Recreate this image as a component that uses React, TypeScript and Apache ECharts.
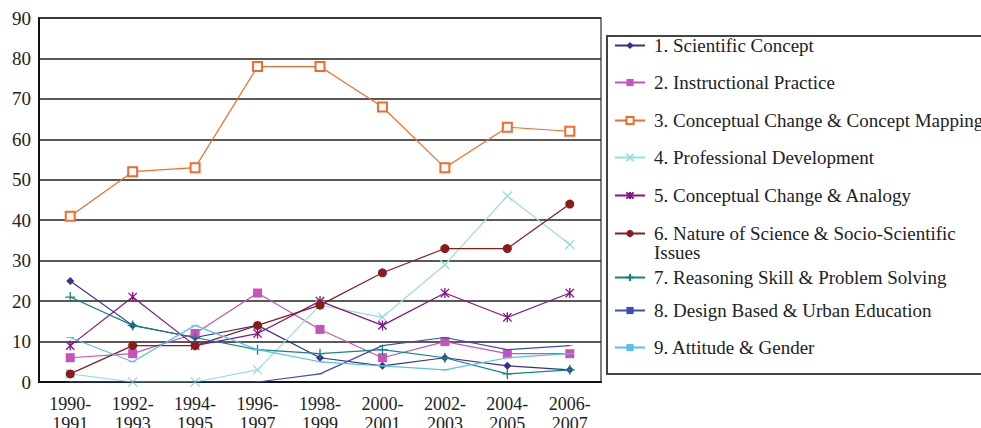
import React, { useEffect, useRef } from "react";
import * as echarts from "echarts";

const categories = [
  "1990-\n1991", "1992-\n1993", "1994-\n1995", "1996-\n1997", "1998-\n1999",
  "2000-\n2001", "2002-\n2003", "2004-\n2005", "2006-\n2007",
];
const yTicks = [0, 10, 20, 30, 40, 50, 60, 70, 80, 90];

const seriesNames = [
  "1. Scientific Concept",
  "2. Instructional Practice",
  "3. Conceptual Change & Concept Mapping",
  "4. Professional Development",
  "5. Conceptual Change & Analogy",
  "6. Nature of Science & Socio-Scientific Issues",
  "7. Reasoning Skill & Problem Solving",
  "8. Design Based & Urban Education",
  "9. Attitude & Gender",
];

const scientificConcept = [25, 14, 11, 14, 6, 4, 6, 4, 3];
const instructionalPractice = [6, 7, 12, 22, 13, 6, 10, 7, 7];
const conceptMapping = [41, 52, 53, 78, 78, 68, 53, 63, 62];
const professionalDevelopment = [2, 0, 0, 3, 19, 16, 29, 46, 34];
const analogy = [9, 21, 9, 12, 20, 14, 22, 16, 22];
const natureOfScience = [2, 9, 9, 14, 19, 27, 33, 33, 44];
const reasoningSkill = [21, 14, 11, 8, 7, 8, 6, 2, 3];
const designBased = [0, 0, 0, 0, 2, 9, 11, 8, 9];
const attitudeGender = [11, 5, 14, 8, 5, 4, 3, 6, 7];

const allValues = [
  scientificConcept, instructionalPractice, conceptMapping, professionalDevelopment,
  analogy, natureOfScience, reasoningSkill, designBased, attitudeGender,
];

const colors = [
  "#35308f", "#c853b8", "#f26b2b", "#99ddd9", "#881188",
  "#8b1c1c", "#108585", "#3a4fb5", "#55c0e8",
];

const symbols = [
  "diamond",
  "rect",
  "emptyRect",
  "path://M0,0L10,10M10,0L0,10",
  "path://M0,0L10,10M10,0L0,10M5,-1L5,11",
  "circle",
  "path://M5,0L5,10M0,5L10,5",
  "path://M0,0H10V3H0Z",
  "path://M0,0H10V3H0Z",
];
const symbolSizes: any[] = [8, 9, 9, 9, 10, 9, 10, [6, 2], [8, 3]];
const legendCenters = [46, 83, 121, 158, 196, 234, 278, 311, 348];

const FONT = "Liberation Serif";

export default function App() {
  const ref = useRef<HTMLDivElement>(null);
  useEffect(() => {
    if (!ref.current) return;
    const chart = echarts.init(ref.current, undefined, { renderer: "svg" });
    const series = seriesNames.map((name, i) => ({
      name,
      type: "line",
      data: allValues[i],
      symbol: symbols[i],
      symbolSize: symbolSizes[i],
      symbolKeepAspect: true,
      lineStyle: { color: colors[i], width: 1.2 },
      itemStyle: {
        color: colors[i],
        borderColor: colors[i],
        borderWidth: i === 2 || i === 3 || i === 4 || i === 6 ? 1.3 : 0,
      },
      emphasis: { disabled: true },
      z: 3 + i,
    }));
    const legends = seriesNames.map((name, i) => ({
      data: [name],
      orient: "vertical",
      left: 614,
      top: i === 5 ? legendCenters[i] - 29 : legendCenters[i] - 10,
      padding: 0,
      itemWidth: 30,
      itemHeight: 9,
      selectedMode: false,
      formatter: (n: string) =>
        n === seriesNames[5] ? " \n6. Nature of Science & Socio-Scientific\nIssues" : n,
      textStyle: {
        fontFamily: FONT,
        fontSize: 19,
        color: "#222",
        lineHeight: 19,
        padding: [0, 0, 0, 4],
      },
    }));
    chart.setOption({
      animation: false,
      backgroundColor: "#fff",
      grid: {
        left: 39, right: 380, top: 18, bottom: 46,
        outerBoundsMode: "none",
        containLabel: false,
        show: true, borderColor: "#555", borderWidth: 1.5,
      },
      legend: legends,
      graphic: [
        {
          type: "rect",
          shape: { x: 607, y: 36, width: 420, height: 338 },
          style: { fill: "none", stroke: "#444", lineWidth: 2 },
          z: 100,
        },
      ],
      xAxis: {
        type: "category",
        data: categories,
        boundaryGap: true,
        axisLine: { lineStyle: { color: "#111", width: 2 } },
        axisTick: { inside: true, length: 5, lineStyle: { color: "#111", width: 1.5 } },
        axisLabel: {
          fontFamily: FONT, fontSize: 18, color: "#222", lineHeight: 20, margin: 12,
          interval: 0,
        },
      },
      yAxis: {
        type: "value",
        min: yTicks[0],
        max: yTicks[yTicks.length - 1],
        interval: 10,
        axisLine: { show: true, lineStyle: { color: "#111", width: 2 } },
        axisTick: { show: false },
        splitLine: { lineStyle: { color: "#222", width: 1.6 } },
        axisLabel: { fontFamily: FONT, fontSize: 19, color: "#222", margin: 8 },
      },
      series,
    });
    return () => chart.dispose();
  }, []);
  return (
    <div
      ref={ref}
      style={{ position: "fixed", left: 0, top: 0, width: 981, height: 428 }}
    />
  );
}
